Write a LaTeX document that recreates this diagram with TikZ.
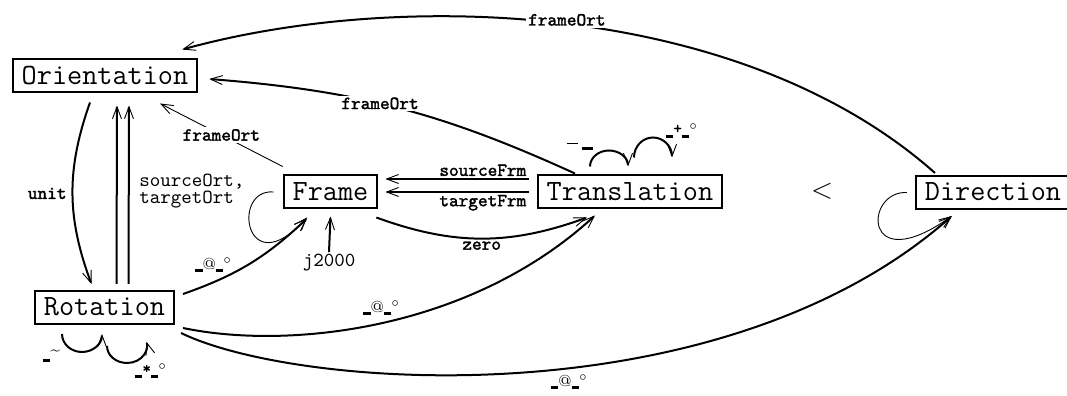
\documentclass[tikz,border=0pt]{standalone}
\usepackage{fontspec}
\newfontface\lblfont{lmmono10-regular.otf}[FakeBold=1.8]
\usetikzlibrary{arrows.meta}
\newcommand{\blip}{\rule[-0.3pt]{3.8pt}{1.5pt}}
\newcommand{\atmark}{\blip\raisebox{1pt}{\normalfont\footnotesize @}\blip$^{\circ}$}
\newcommand{\starmark}{\blip\raisebox{2pt}{\footnotesize *}\blip$^{\circ}$}
\newcommand{\plusmark}{\blip\raisebox{2pt}{\footnotesize +}\blip$^{\circ}$}
\newcommand{\tildemark}{\rule[-0.3pt]{3.5pt}{1.6pt}\raisebox{3pt}{\normalfont\small\textasciitilde}}
\newcommand{\barmark}{\rule[6pt]{5.5pt}{0.5pt}\,\rule[3pt]{5.5pt}{1.8pt}}
\tikzset{
    obj/.style = {draw, line width=1pt, font=\fontsize{14.7}{17}\selectfont\ttfamily,
        inner xsep=4.5pt, inner ysep=1.5pt, text height=11pt, text depth=2.5pt},
    lbl/.style = {font=\fontsize{9.2}{11}\selectfont\lblfont, inner sep=1pt},
    plain/.style = {font=\fontsize{10}{8.5}\selectfont\ttfamily, inner sep=1pt},
    thk/.style = {line width=1pt, -{Straight Barb[length=6pt,width=4.5pt,line width=0.45pt]}},
    thn/.style = {line width=0.45pt, -{Straight Barb[length=6pt,width=4.5pt,line width=0.45pt]}},
}
\begin{document}
\begin{tikzpicture}[x=0.5pt,y=0.5pt]
\useasboundingbox (0,0) rectangle (1067,396);

\node[obj] (ori) at (105,320) {Orientation};
\node[obj] (rot) at (104.5,88.5) {Rotation};
\node[obj] (fra) at (330.5,204) {Frame};
\node[obj] (tra) at (630,204) {Translation};
\node[obj] (dir) at (993,203.5) {Direction};
\node[font=\fontsize{14.7}{17}\selectfont] (lt) at (822,205) {$<$};
\node[plain] (j2000) at (329,133) {j2000};

\draw[thk] ([shift={(-29pt,1pt)}]dir.north) .. controls +(-195,173) and +(217,60) .. ([shift={(-8pt,4.5pt)}]ori.north east)
    node[lbl,fill=white,pos=0.5,yshift=2pt] {frameOrt};
\draw[thk] ([xshift=-27.5pt,yshift=0.5pt]tra.north) to[bend right=10] node[lbl,fill=white,pos=0.55] {frameOrt} ([shift={(5.5pt,-1.5pt)}]ori.east);
\draw[thn] ([yshift=4pt]fra.north west) -- node[lbl,fill=white] {frameOrt} ([shift={(27.5pt,-5pt)}]ori.south);

\draw[thk] ([shift={(-7.5pt,-4.5pt)}]ori.south) to[bend right=20] node[lbl,left=1.5pt] {unit} ([shift={(-6.5pt,3pt)}]rot.north);
\draw[thk] ([shift={(6pt,3pt)}]rot.north) -- ([shift={(6pt,-6pt)}]ori.south);
\draw[thk] ([shift={(12pt,3pt)}]rot.north) -- ([shift={(12pt,-6pt)}]ori.south);
\node[plain,align=left,anchor=west] (ortlbl) at (137,204.5) {sourceOrt,\\targetOrt};

\draw[thn] ([xshift=-4.5pt]fra.west) .. controls +(-43,4) and +(-62,-69) .. ([shift={(-11.75pt,-4pt)}]fra.south);
\draw[thk] ([shift={(4pt,-2pt)}]rot.north east) to[bend right=12] node[lbl,pos=0.36,above left=-1pt] {\atmark} ([shift={(-11.75pt,-4.5pt)}]fra.south);

\draw[thk] ([shift={(-4pt,6.5pt)}]tra.west) -- node[lbl,above,pos=0.32] {sourceFrm} ([shift={(3.5pt,6.5pt)}]fra.east);
\draw[thk] ([xshift=-4pt]tra.west) -- node[lbl,below,pos=0.32] {targetFrm} ([xshift=3.5pt]fra.east);
\draw[thk] ([shift={(-1pt,-4pt)}]fra.south east) to[bend right=20] node[lbl,below] {zero} ([shift={(-21.5pt,-4pt)}]tra.south);
\draw[thk] (j2000.north) -- ([yshift=-3.5pt]fra.south);

\draw[thk] ([shift={(4pt,-1.5pt)}]rot.south east) .. controls +(105,-22) and +(-125,-115) .. ([shift={(-17.5pt,-3pt)}]tra.south)
    node[lbl,pos=0.5,above=2.5pt] {\atmark};
\draw[thk] ([shift={(3pt,-4pt)}]rot.south east) .. controls +(117,-57) and +(-230,-204) .. ([shift={(18.5pt,-3pt)}]dir.south west)
    node[lbl,pos=0.55,below=2pt] {\atmark};
\draw[thn] ([xshift=-4pt]dir.west) .. controls +(-43,2) and +(-90,-64) .. ([shift={(18.5pt,-3pt)}]dir.south west);

\draw[thk] ([shift={(-20pt,4pt)}]tra.north) arc[start angle=180,end angle=0,x radius=9.5pt,y radius=8pt];
\draw[thk] ([shift={(2pt,8.5pt)}]tra.north) arc[start angle=180,end angle=0,x radius=9.5pt,y radius=10pt];
\node[lbl] (tl1) at (580,246) {\barmark};
\node[lbl] (tl2) at (682,265) {\plusmark};

\draw[thk] ([shift={(-21.25pt,-4.5pt)}]rot.south) arc[start angle=180,end angle=360,x radius=10pt,y radius=9pt];
\draw[thk] ([shift={(1.25pt,-10.5pt)}]rot.south) arc[start angle=180,end angle=375,x radius=10pt,y radius=8.5pt];
\node[lbl] (rl1) at (52,40) {\tildemark};
\node[lbl] (rl2) at (151,25) {\starmark};

\end{tikzpicture}
\end{document}
